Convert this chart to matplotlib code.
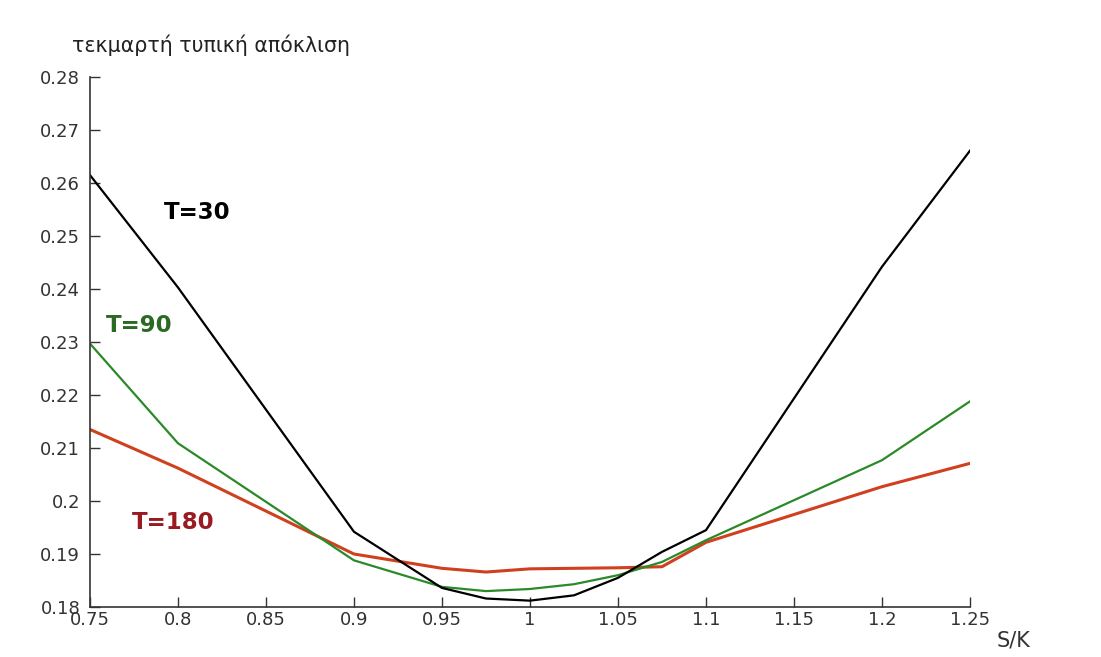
import numpy as np
import matplotlib.pyplot as plt

plt.rcParams['font.family'] = ['DejaVu Sans']

# S/K values
sk = [0.75, 0.8, 0.9, 0.95, 0.975, 1.0, 1.025, 1.05, 1.075, 1.1, 1.2, 1.25]

# implied volatility per maturity
vol_30 = [0.2615, 0.2403, 0.1942, 0.1836, 0.1816, 0.1812, 0.1822, 0.1855, 0.1904, 0.1945, 0.2442, 0.2661]
vol_90 = [0.2297, 0.2109, 0.1888, 0.1838, 0.1830, 0.1834, 0.1843, 0.1860, 0.1885, 0.1926, 0.2077, 0.2188]
vol_180 = [0.2135, 0.2062, 0.1900, 0.1873, 0.1866, 0.1872, 0.1873, 0.1874, 0.1876, 0.1922, 0.2027, 0.2071]

xticks = [0.75, 0.8, 0.85, 0.9, 0.95, 1, 1.05, 1.1, 1.15, 1.2, 1.25]
xticklabels = ['0.75', '0.8', '0.85', '0.9', '0.95', '1', '1.05', '1.1', '1.15', '1.2', '1.25']
yticks = [0.18, 0.19, 0.2, 0.21, 0.22, 0.23, 0.24, 0.25, 0.26, 0.27, 0.28]
yticklabels = ['0.18', '0.19', '0.2', '0.21', '0.22', '0.23', '0.24', '0.25', '0.26', '0.27', '0.28']

fig = plt.figure(figsize=(11.01, 6.57), dpi=100)
ax = fig.add_axes([0.0817, 0.0761, 0.7993, 0.8067])

ax.plot(sk, vol_180, color='#d0401e', lw=2.2)
ax.plot(sk, vol_90, color='#2a8a2a', lw=1.6)
ax.plot(sk, vol_30, color='black', lw=1.6)

ax.text(0.7920, 0.2544, 'T=30', color='black', fontsize=16.5, fontweight='bold', va='center')
ax.text(0.7592, 0.2331, 'T=90', color='#2a6a22', fontsize=16.5, fontweight='bold', va='center')
ax.text(0.7740, 0.1960, 'T=180', color='#9a1a22', fontsize=16.5, fontweight='bold', va='center')

ax.set_xlim(0.75, 1.25)
ax.set_ylim(0.18, 0.28)
ax.set_xticks(xticks)
ax.set_xticklabels(xticklabels)
ax.set_yticks(yticks)
ax.set_yticklabels(yticklabels)
ax.tick_params(direction='in', length=7, width=1, labelsize=13, labelcolor='#333333', color='#333333')
ax.tick_params(axis='y', pad=7)
ax.tick_params(axis='x', pad=3)
ax.spines['top'].set_visible(False)
ax.spines['right'].set_visible(False)
for s in ['left', 'bottom']:
    ax.spines[s].set_color('#333333')
    ax.spines[s].set_linewidth(1.2)

fig.text(72 / 1101, 1 - 45 / 657, 'τεκμαρτή τυπική απόκλιση', fontsize=14.8, color='#222222', va='center', ha='left')
fig.text(997 / 1101, 1 - 640 / 657, 'S/K', fontsize=15, color='#333333', va='center', ha='left')

fig.savefig('out.png', dpi=100)
